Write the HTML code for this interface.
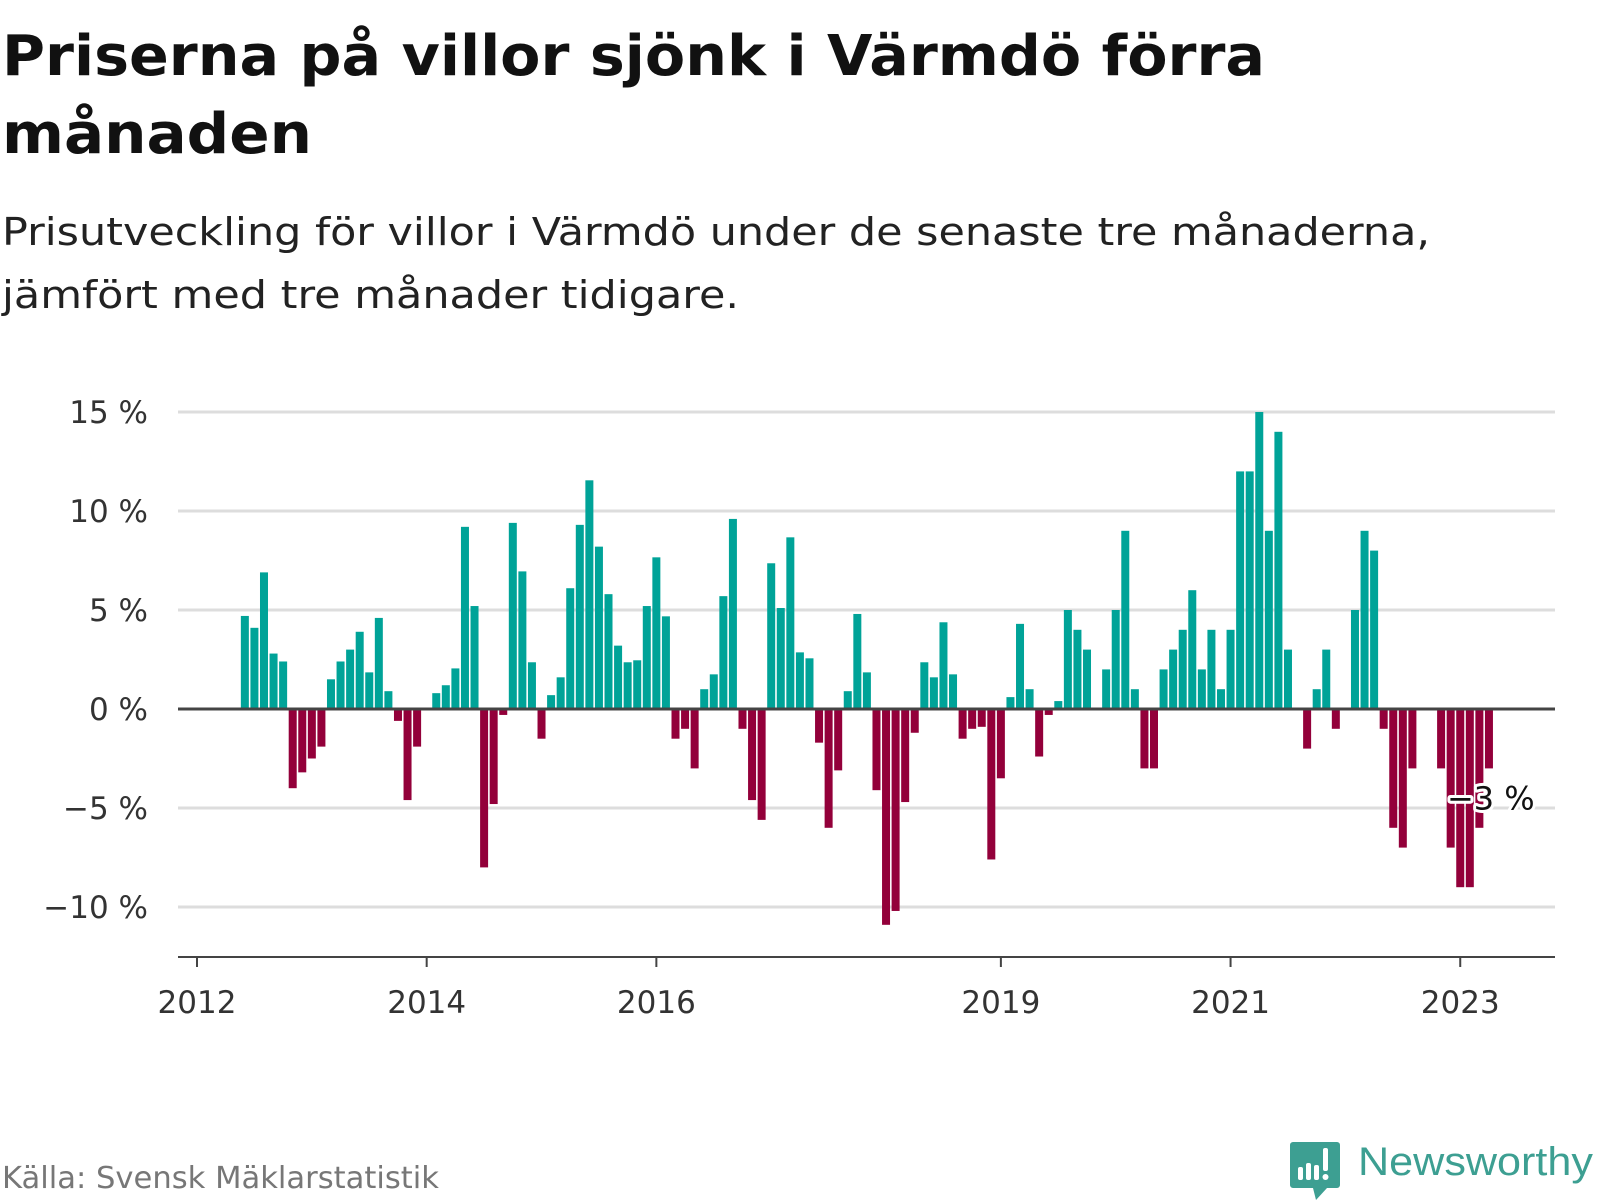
<!DOCTYPE html>
<html><head><meta charset="utf-8"><style>
html,body{margin:0;padding:0;background:#fff;}
svg{display:block;font-family:"DejaVu Sans","Liberation Sans",sans-serif;}
</style></head><body>
<svg id="chart" width="1600" height="1200" viewBox="0 0 1600 1200">
<text x="2" y="75" font-size="56" font-weight="bold" fill="#111" textLength="1263" lengthAdjust="spacingAndGlyphs">Priserna på villor sjönk i Värmdö förra</text>
<text x="2" y="153" font-size="56" font-weight="bold" fill="#111" textLength="310" lengthAdjust="spacingAndGlyphs">månaden</text>
<text x="2" y="245" font-size="38" fill="#222" textLength="1428" lengthAdjust="spacingAndGlyphs">Prisutveckling för villor i Värmdö under de senaste tre månaderna,</text>
<text x="2" y="308" font-size="38" fill="#222" textLength="737" lengthAdjust="spacingAndGlyphs">jämfört med tre månader tidigare.</text>
<g id="grid"></g>
<g id="yaxis"></g>
<g id="bars"></g>
<line x1="178" x2="1555" y1="709" y2="709" stroke="#444" stroke-width="3"/>
<g id="xaxis"></g>
<text id="lastlabel" font-size="32" fill="#111" stroke="#fff" stroke-width="6" paint-order="stroke" stroke-linejoin="round"></text>
<text x="2" y="1188" font-size="30" fill="#777" textLength="437" lengthAdjust="spacingAndGlyphs">Källa: Svensk Mäklarstatistik</text>
<g>
<path d="M1293 1142 h44 a3 3 0 0 1 3 3 v40 a3 3 0 0 1 -3 3 h-10 l-11 12 l-3 -12 h-20 a3 3 0 0 1 -3 -3 v-40 a3 3 0 0 1 3 -3z" fill="#3d9f92"/>
<rect x="1298" y="1167" width="5" height="13" rx="2" fill="#fff"/>
<rect x="1306" y="1163" width="5" height="17" rx="2" fill="#fff"/>
<rect x="1314" y="1165" width="5" height="15" rx="2" fill="#fff"/>
<rect x="1323" y="1148" width="5" height="23" rx="2" fill="#fff"/>
<circle cx="1325.5" cy="1177" r="3" fill="#fff"/>
<text x="1358" y="1175" font-size="40" fill="#3d9f92" font-family="Liberation Sans, sans-serif" textLength="235" lengthAdjust="spacingAndGlyphs">Newsworthy</text>
</g>
</svg>
<script>
const startMonth = 5; // June 2012, months since Jan 2012
const values = [4.7,4.1,6.9,2.8,2.4,-4.0,-3.2,-2.5,-1.9,1.5,2.4,3.0,3.9,1.85,4.6,0.9,-0.6,-4.6,-1.9,0,
0.8,1.2,2.05,9.2,5.2,-8.0,-4.8,-0.3,9.4,6.95,2.36,-1.5,0.7,1.6,6.1,9.3,11.55,8.2,5.8,3.2,2.36,2.46,5.2,
7.66,4.68,-1.5,-1.0,-3.0,1.0,1.75,5.7,9.6,-1.0,-4.6,-5.6,7.36,5.1,8.67,2.86,2.56,-1.7,-6.0,-3.1,0.9,4.8,1.85,
-4.1,-10.9,-10.2,-4.7,-1.2,2.36,1.6,4.38,1.75,-1.5,-1.0,-0.9,-7.6,-3.5,0.6,4.3,1.0,-2.4,-0.3,0.4,
5,4,3,0,2,5,9,1,-3,-3,2,3,4,6,2,4,1,4,12,12,15,9,14,3,0,-2,1,3,-1,0,5,9,8,-1,-6,-7,-3,0,0,-3,-7,-9,-9,-6,-3];
const yTicks = [15,10,5,0,-5,-10];
const yTickLabels = ["15 %","10 %","5 %","0 %","\u22125 %","\u221210 %"];
const xTickYears = [2012,2014,2016,2019,2021,2023];
const lastLabel = "\u22123 %";

const NS="http://www.w3.org/2000/svg";
const x0=197, monthW=9.57, barW=8;
function xScale(m){return x0+m*monthW;}
function yScale(v){return 709 - v*19.8;}
function mk(tag,attrs,parent){const e=document.createElementNS(NS,tag);for(const k in attrs)e.setAttribute(k,attrs[k]);parent.appendChild(e);return e;}
const grid=document.getElementById('grid'), yax=document.getElementById('yaxis'), bars=document.getElementById('bars'), xax=document.getElementById('xaxis');
yTicks.forEach((t,i)=>{
  const l=mk('line',{x1:178,x2:1555,y1:yScale(t),y2:yScale(t),stroke:'#ddd','stroke-width':3},grid);
  
  
  const tx=mk('text',{x:148,y:yScale(t)+11,'text-anchor':'end','font-size':31,fill:'#333'},yax);
  tx.textContent=yTickLabels[i];
  
  
});
values.forEach((v,i)=>{
  if(v===0)return;
  const cx=xScale(startMonth+i);
  const y=v>0?yScale(v):yScale(0);
  const h=Math.abs(yScale(v)-yScale(0));
  const r=mk('rect',{x:cx-barW/2,y:y,width:barW,height:h,fill:v>0?'#00a398':'#93003a'},bars);
  
  
});
mk('line',{x1:178,x2:1555,y1:957,y2:957,stroke:'#444','stroke-width':2},xax);
xTickYears.forEach(yr=>{
  const x=xScale((yr-2012)*12);
  mk('line',{x1:x,x2:x,y1:957,y2:967,stroke:'#444','stroke-width':2},xax);
  const t=mk('text',{x:x,y:1013,'text-anchor':'middle','font-size':31,fill:'#333'},xax);
  t.textContent=String(yr);
  
  
});
const ll=document.getElementById('lastlabel');
const lastX=xScale(startMonth+values.length-1);
ll.setAttribute('x',lastX-42);
ll.setAttribute('y',yScale(values[values.length-1])+41);
ll.textContent=lastLabel;
</script>
</body></html>
